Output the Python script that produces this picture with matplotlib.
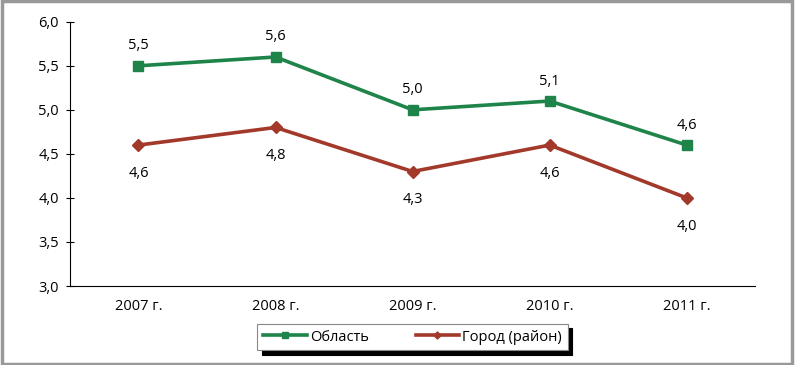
import matplotlib.pyplot as plt
from matplotlib.patches import Rectangle

years = ['2007 г.', '2008 г.', '2009 г.', '2010 г.', '2011 г.']
oblast = [5.5, 5.6, 5.0, 5.1, 4.6]
gorod = [4.6, 4.8, 4.3, 4.6, 4.0]
yticks = [3.0, 3.5, 4.0, 4.5, 5.0, 5.5, 6.0]

green = '#1E8449'
brown = '#A3392A'

plt.rcParams['font.family'] = ['Open Sans', 'DejaVu Sans']
plt.rcParams['font.size'] = 10.5

fig = plt.figure(figsize=(7.95, 3.65), dpi=100)
ax = fig.add_axes([0.088, 0.2164, 0.862, 0.724])

x = list(range(len(years)))
ax.plot(x, oblast, color=green, lw=2.6, marker='s', ms=7, label='Область')
ax.plot(x, gorod, color=brown, lw=2.6, marker='D', ms=6, label='Город (район)')

for xi, v in zip(x, oblast):
    ax.annotate(f'{v:.1f}'.replace('.', ','), (xi, v), xytext=(0, 9),
                textcoords='offset points', ha='center', va='bottom')
for xi, v in zip(x, gorod):
    ax.annotate(f'{v:.1f}'.replace('.', ','), (xi, v), xytext=(0, -15),
                textcoords='offset points', ha='center', va='top')

ax.set_xlim(-0.5, 4.5)
ax.set_ylim(3.0, 6.0)
ax.set_yticks(yticks)
ax.set_yticklabels([f'{t:.1f}'.replace('.', ',') for t in yticks])
ax.set_xticks(x)
ax.set_xticklabels(years)
ax.tick_params(axis='x', length=0, pad=9)
ax.tick_params(axis='y', direction='inout', length=6, pad=5)
ax.spines['top'].set_visible(False)
ax.spines['right'].set_visible(False)

leg = ax.legend(loc='upper center', bbox_to_anchor=(0.5, -0.115), ncol=2,
                frameon=True, fancybox=False, edgecolor='#888888',
                shadow={'color': 'black', 'alpha': 1, 'ox': 3, 'oy': -3},
                handlelength=3, handletextpad=0.2, columnspacing=3.2,
                borderpad=0.4, markerscale=0.6)
leg.get_frame().set_linewidth(0.8)

fig.patches.append(Rectangle((0.002, 0.004), 0.994, 0.993, transform=fig.transFigure,
                             fill=False, edgecolor='#999999', lw=2.5))

fig.savefig('out.png', dpi=100)
